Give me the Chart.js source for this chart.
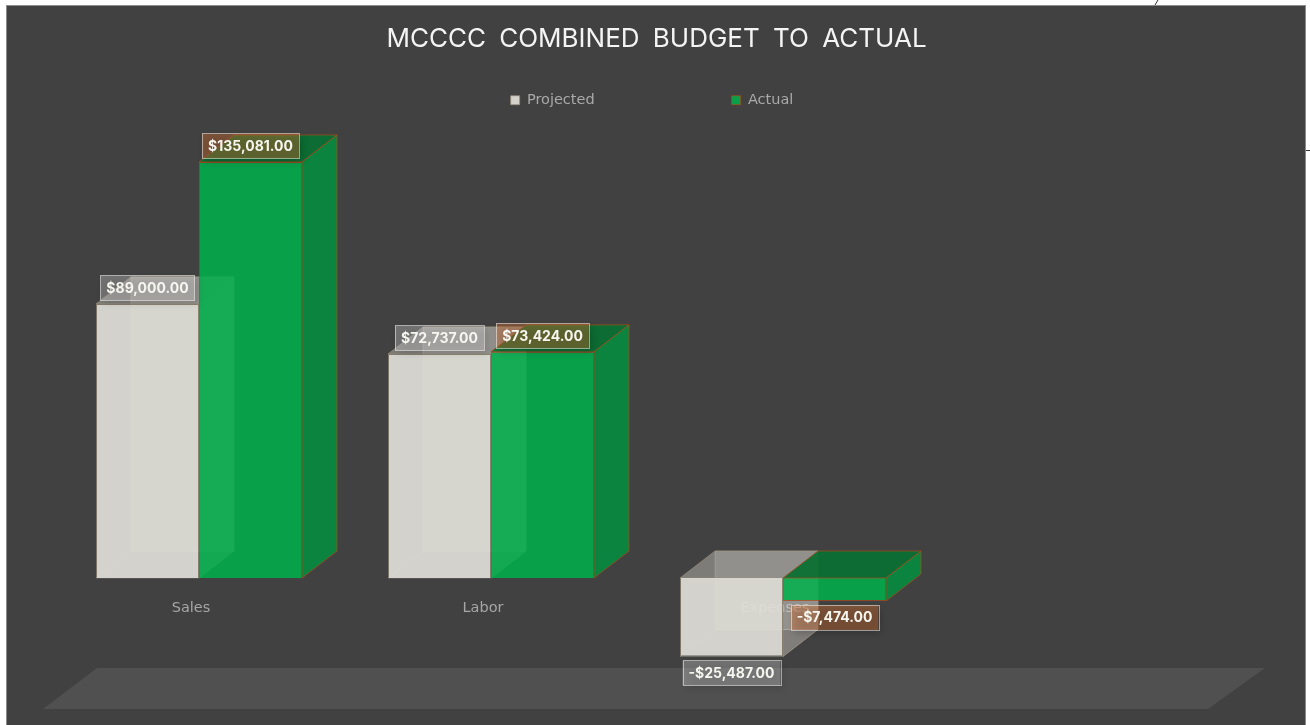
<!DOCTYPE html>
<html>
<head>
<meta charset="utf-8">
<title>MCCCC Combined Budget to Actual</title>
<script src="https://cdn.jsdelivr.net/npm/chart.js@4"></script>
<style>
    html, body { margin: 0; padding: 0; background: #fff; }
    canvas { display: block; }
</style>
</head>
<body>
<canvas id="budget-chart" width="1310" height="725"></canvas>
<script>
const categories = ['Sales', 'Labor', 'Expenses'];
const projectedValues = [89000, 72737, -25487];
const actualValues = [135081, 73424, -7474];

const FONT = 'Inter, "Noto Sans", sans-serif';
const SMALL_FONT = '"DejaVu Sans", sans-serif';
const DEPTH_X = 35;
const DEPTH_Y = 27;

const faceStyles = {
    Projected: {
        back: 'rgba(226,224,216,0.22)',
        backEdge: 'rgba(235,233,225,0.22)',
        side: 'rgba(215,213,205,0.42)',
        top: 'rgba(215,213,205,0.40)',
        edge: 'rgba(150,140,120,0.7)',
        labelBg: 'rgba(255,255,255,0.26)'
    },
    Actual: {
        side: 'rgba(8,135,62,0.96)',
        top: 'rgba(8,110,50,0.94)',
        edge: 'rgba(165,75,30,0.75)',
        labelBg: 'rgba(205,110,50,0.42)'
    }
};

function money(value) {
    const text = Math.abs(value).toLocaleString('en-US', { minimumFractionDigits: 2, maximumFractionDigits: 2 });
    return (value < 0 ? '-$' : '$') + text;
}

function polygon(ctx, points, fill, stroke) {
    ctx.beginPath();
    points.forEach((p, i) => (i ? ctx.lineTo(p[0], p[1]) : ctx.moveTo(p[0], p[1])));
    ctx.closePath();
    if (fill) {
        ctx.fillStyle = fill;
        ctx.fill();
    }
    if (stroke) {
        ctx.strokeStyle = stroke;
        ctx.lineWidth = 1;
        ctx.stroke();
    }
}

function drawFaces(ctx, meta, style) {
    meta.data.forEach(bar => {
        const { x, y, base, width } = bar.getProps(['x', 'y', 'base', 'width'], true);
        const left = x - width / 2;
        const right = x + width / 2;
        const top = Math.min(y, base);
        const bottom = Math.max(y, base);
        if (style.back) {
            // inner faces, only seen through the translucent front
            polygon(ctx, [[left + DEPTH_X, top - DEPTH_Y], [right + DEPTH_X, top - DEPTH_Y], [right + DEPTH_X, bottom - DEPTH_Y], [left + DEPTH_X, bottom - DEPTH_Y]], style.back, style.backEdge);
            polygon(ctx, [[left, bottom], [left + DEPTH_X, bottom - DEPTH_Y], [right + DEPTH_X, bottom - DEPTH_Y], [right, bottom]], null, style.backEdge);
        }
        polygon(ctx, [[left, top], [left + DEPTH_X, top - DEPTH_Y], [right + DEPTH_X, top - DEPTH_Y], [right, top]], style.top, style.edge);
        polygon(ctx, [[right, top], [right + DEPTH_X, top - DEPTH_Y], [right + DEPTH_X, bottom - DEPTH_Y], [right, bottom]], style.side, style.edge);
    });
}

// sheet background, floor and the stray marks at the edge of the scan
const backdropPlugin = {
    id: 'backdrop',
    beforeDraw(chart) {
        const ctx = chart.ctx;
        ctx.save();
        ctx.fillStyle = '#ffffff';
        ctx.fillRect(0, 0, 1310, 725);
        ctx.fillStyle = '#414141';
        ctx.fillRect(7, 6, 1298, 719);
        ctx.strokeStyle = '#8c8c8c';
        ctx.lineWidth = 1;
        ctx.strokeRect(6.5, 5.5, 1299, 725);
        polygon(ctx, [[43, 709], [1208, 709], [1265, 668], [97, 668]], '#515050');
        ctx.strokeStyle = '#333';
        ctx.beginPath();
        ctx.moveTo(1158, 0);
        ctx.lineTo(1155, 5);
        ctx.moveTo(1306, 150.5);
        ctx.lineTo(1310, 150.5);
        ctx.stroke();
        ctx.restore();
        // the title has wide gaps between its words
        ctx.wordSpacing = '6px';
    },
    afterLayout(chart) {
        // legend padding is the gap between items, it also pushes the row down
        chart.legend.top = 93 - chart.legend.options.labels.padding;
        chart.legend.left -= 3;
        chart.legend.right -= 3;
        chart.titleBlock.left += 1.5;
        chart.titleBlock.right += 1.5;
    }
};

// the library draws the last dataset first, so the projected faces go under everything
// and the actual faces go right after the actual bars
const boxPlugin = {
    id: 'box3d',
    beforeDatasetsDraw(chart) {
        const ctx = chart.ctx;
        ctx.save();
        drawFaces(ctx, chart.getDatasetMeta(0), faceStyles.Projected);
        ctx.restore();
    },
    afterDatasetDraw(chart, args) {
        if (args.index !== 1) return;
        const ctx = chart.ctx;
        ctx.save();
        drawFaces(ctx, args.meta, faceStyles.Actual);
        ctx.restore();
    }
};

const valueLabelPlugin = {
    id: 'valueLabels',
    afterDatasetsDraw(chart) {
        const ctx = chart.ctx;
        ctx.save();
        ctx.font = '700 14px ' + FONT;
        ctx.textAlign = 'center';
        ctx.textBaseline = 'middle';
        chart.data.datasets.forEach((dataset, di) => {
            const style = faceStyles[dataset.label];
            chart.getDatasetMeta(di).data.forEach((bar, i) => {
                const value = dataset.data[i];
                const text = money(value);
                const { x, y } = bar.getProps(['x', 'y'], true);
                const boxW = ctx.measureText(text).width + 12;
                const boxH = 25;
                const cy = value < 0 ? y + 16.5 : y - 16;
                ctx.save();
                ctx.shadowColor = 'rgba(0,0,0,0.45)';
                ctx.shadowBlur = 7;
                ctx.shadowOffsetX = 3;
                ctx.shadowOffsetY = 4;
                ctx.fillStyle = style.labelBg;
                ctx.fillRect(x - boxW / 2, cy - boxH / 2, boxW, boxH);
                ctx.restore();
                ctx.strokeStyle = 'rgba(255,255,255,0.5)';
                ctx.lineWidth = 1;
                ctx.strokeRect(Math.round(x - boxW / 2) + 0.5, Math.round(cy - boxH / 2) + 0.5, Math.round(boxW), boxH);
                ctx.fillStyle = '#f6f6f0';
                ctx.fillText(text, x, cy + 0.5);
            });
        });
        ctx.restore();
    }
};

new Chart(document.getElementById('budget-chart'), {
    type: 'bar',
    data: {
        labels: categories,
        datasets: [
            {
                label: 'Projected',
                data: projectedValues,
                backgroundColor: 'rgba(224,222,216,0.92)',
                borderColor: 'rgba(150,140,120,0.7)',
                borderWidth: 1
            },
            {
                label: 'Actual',
                data: actualValues,
                backgroundColor: 'rgba(0,176,76,0.86)',
                borderColor: 'rgba(165,75,30,0.75)',
                borderWidth: 1
            }
        ]
    },
    plugins: [backdropPlugin, boxPlugin, valueLabelPlugin],
    options: {
        responsive: false,
        animation: false,
        events: [],
        categoryPercentage: 206 / 292,
        barPercentage: 1,
        layout: { padding: { top: 0, bottom: 23.8, left: 0, right: 0 } },
        scales: {
            x: {
                position: { y: 0 },
                grid: { display: false },
                border: { display: false },
                ticks: {
                    color: '#a6a6a6',
                    font: { family: SMALL_FONT, size: 14.5 },
                    padding: 14,
                    labelOffset: -8,
                    maxRotation: 0
                }
            },
            y: {
                min: -40000,
                max: 140000,
                display: false,
                afterFit(scale) { scale.width = 53; }
            },
            spacer: {
                type: 'linear',
                position: 'right',
                display: false,
                afterFit(scale) { scale.width = 381; }
            }
        },
        plugins: {
            tooltip: { enabled: false },
            title: {
                display: true,
                text: 'MCCCC COMBINED BUDGET TO ACTUAL',
                color: '#f4f4f4',
                font: { family: FONT, size: 26, weight: 'normal' },
                padding: { top: 23.4, bottom: 6 }
            },
            legend: {
                display: true,
                position: 'top',
                maxHeight: 86.2,
                labels: {
                    color: '#a9a9a9',
                    font: { family: SMALL_FONT, size: 14.5 },
                    boxWidth: 9,
                    boxHeight: 9,
                    padding: 137
                }
            }
        }
    }
});
</script>
</body>
</html>
